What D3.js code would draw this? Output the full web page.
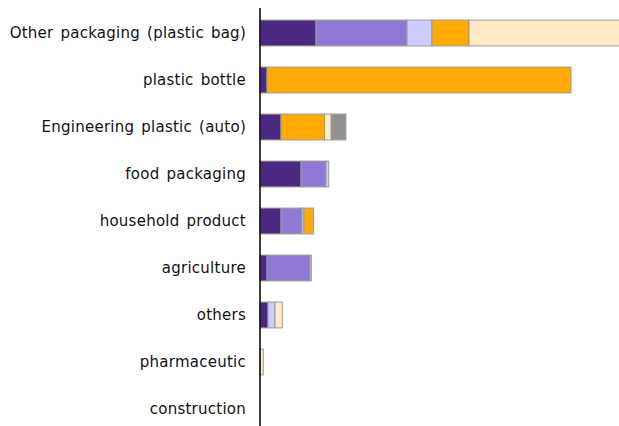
<!DOCTYPE html>
<html>
<head>
<meta charset="utf-8">
<script src="https://cdn.jsdelivr.net/npm/d3@7"></script>
<style>
  body { margin: 0; background: #fff; }
  .label { font-family: "DejaVu Sans", sans-serif; font-size: 15px; letter-spacing: 0.25px; word-spacing: 2px; fill: #111; }
</style>
</head>
<body>
<div id="chart"></div>
<script>
var svgWidth = 619;
var svgHeight = 426;

// categories, top to bottom
var categories = [
  "Other packaging (plastic bag)",
  "plastic bottle",
  "Engineering plastic (auto)",
  "food packaging",
  "household product",
  "agriculture",
  "others",
  "pharmaceutic",
  "construction"
];

// stacked series (left to right), values per category
var seriesNames = ["A", "B", "C", "D", "E", "F"];
var seriesA = [56, 7, 21, 41, 21, 7, 8, 0, 0];
var seriesB = [91, 0, 0, 25, 21, 43, 0, 0, 0];
var seriesC = [25, 0, 0, 2.7, 2, 1.3, 7, 0, 0];
var seriesD = [37, 304, 43.5, 0, 9.6, 0, 0, 0, 0];
var seriesE = [190, 0, 6.7, 0, 0, 0, 7.3, 3.3, 0];
var seriesF = [0, 0, 14.7, 0, 0, 0, 0, 0, 0];
var seriesColors = ["#4b2882", "#9079d4", "#ccccff", "#ffaa00", "#ffeac6", "#919191"];

var margin = { top: 9.5, left: 260 };

var rows = categories.map(function(c, i) {
  return {
    cat: c,
    A: seriesA[i], B: seriesB[i], C: seriesC[i],
    D: seriesD[i], E: seriesE[i], F: seriesF[i]
  };
});

var svg = d3.select("#chart")
  .append("svg")
  .attr("width", svgWidth)
  .attr("height", svgHeight);

var xScale = d3.scaleLinear()
  .domain([0, 100])
  .range([margin.left, margin.left + 100]);

var yScale = d3.scaleBand()
  .domain(categories)
  .range([margin.top, 432.5])
  .paddingInner(0.45)
  .paddingOuter(0.225);

var stacked = d3.stack().keys(seriesNames)(rows);

svg.append("g")
  .selectAll("g")
  .data(stacked)
  .enter()
  .append("g")
  .attr("fill", (d, i) => seriesColors[i])
  .selectAll("rect")
  .data(d => d.filter(p => p[1] - p[0] > 0))
  .enter()
  .append("rect")
  .attr("x", d => xScale(d[0]))
  .attr("y", d => yScale(d.data.cat))
  .attr("width", d => xScale(d[1]) - xScale(d[0]))
  .attr("height", yScale.bandwidth())
  .attr("stroke", "#9a9a9a")
  .attr("stroke-width", 1);

// category labels
var leftAxis = d3.axisLeft(yScale).tickSize(0).tickPadding(14);
var axisG = svg.append("g")
  .attr("transform", `translate(${margin.left}, 0)`)
  .call(leftAxis);
axisG.select(".domain").remove();
axisG.selectAll("text")
  .attr("class", "label")
  .attr("font-family", null)
  .attr("font-size", null);

svg.append("line")
  .attr("x1", margin.left).attr("x2", margin.left)
  .attr("y1", 8).attr("y2", svgHeight)
  .attr("stroke", "#000")
  .attr("stroke-width", 1.5);
</script>
</body>
</html>
